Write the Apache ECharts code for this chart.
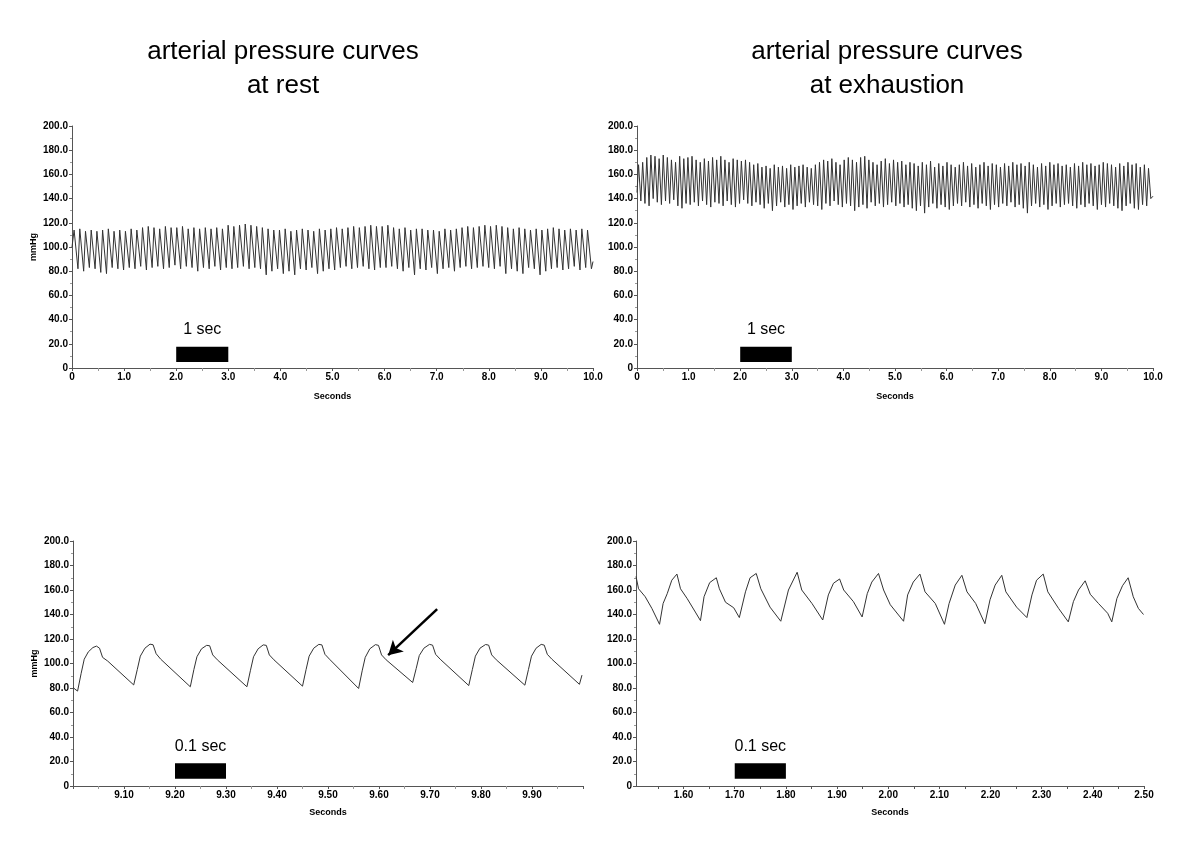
<!DOCTYPE html>
<html>
<head>
<meta charset="utf-8">
<script src="https://cdn.jsdelivr.net/npm/echarts@6/dist/echarts.min.js"></script>
<style>
  html, body { margin: 0; padding: 0; background: #fff; }
  #chart { width: 1200px; height: 847px; }
</style>
</head>
<body>
<div id="chart"></div>
<script>
// 10 s recordings: one peak and one trough value per beat (mmHg)
const restPeaks = [
  114, 115, 113, 114, 113, 114, 115, 113, 114,
  113, 115, 114, 116, 117, 116, 115, 117, 116,
  116, 117, 115, 116, 115, 116, 115, 116, 115,
  118, 117, 118, 119, 118, 117, 116, 115, 114,
  114, 115, 113, 114, 115, 114, 113, 115, 114,
  115, 116, 115, 116, 117, 116, 117, 118, 117,
  117, 118, 116, 115, 116, 114, 115, 115, 114,
  114, 113, 115, 114, 115, 116, 117, 116, 117,
  118, 117, 118, 117, 116, 115, 116, 115, 114,
  115, 114, 115, 116, 115, 114, 115, 114, 115, 114
];
const restTroughs = [
  82, 80, 83, 82, 79, 78, 83, 82, 81,
  83, 82, 84, 81, 83, 84, 82, 83, 85,
  82, 84, 83, 80, 83, 82, 84, 81, 83,
  82, 83, 84, 82, 83, 82, 77, 80, 82,
  78, 80, 77, 82, 81, 83, 78, 80, 82,
  81, 83, 84, 82, 83, 84, 82, 81, 83,
  83, 84, 82, 80, 83, 77, 82, 81, 83,
  78, 82, 83, 80, 83, 84, 82, 83, 84,
  83, 82, 84, 78, 82, 80, 78, 83, 82,
  77, 80, 82, 83, 81, 82, 84, 81, 83, 82
];
const exPeaks = [
  168, 170, 174, 176, 175, 173, 176, 174, 172, 170, 175, 173, 174,
  175, 172, 170, 173, 171, 174, 172, 175, 172, 170, 173, 172, 171,
  172, 170, 168, 169, 166, 167, 165, 168, 166, 167, 165, 168, 166,
  167, 168, 166, 165, 168, 170, 172, 171, 173, 170, 168, 172, 174,
  172, 170, 174, 175, 172, 170, 168, 171, 173, 169, 172, 170, 171,
  168, 170, 169, 167, 170, 168, 171, 166, 169, 167, 170, 168, 166,
  168, 170, 167, 169, 166, 168, 170, 167, 169, 168, 166, 169, 167,
  170, 168, 169, 167, 170, 168, 166, 169, 167, 170, 168, 169, 167,
  168, 166, 169, 167, 170, 168, 169, 167, 168, 170, 169, 168, 166,
  169, 167, 170, 168, 169, 166, 168, 165
];
const exTroughs = [
  138, 136, 134, 140, 137, 135, 138, 136, 139, 134, 132, 136, 135,
  137, 134, 138, 135, 133, 137, 136, 134, 138, 135, 133, 136, 139,
  136, 134, 137, 135, 132, 136, 130, 134, 137, 133, 135, 131, 134,
  136, 133, 137, 135, 134, 131, 136, 134, 138, 135, 133, 136, 134,
  130, 133, 135, 132, 137, 134, 136, 133, 135, 137, 134, 136, 133,
  135, 132, 130, 134, 128, 133, 136, 132, 135, 133, 131, 134, 136,
  134, 137, 133, 135, 132, 136, 134, 131, 135, 133, 136, 134, 137,
  133, 135, 132, 128, 134, 136, 133, 135, 131, 134, 136, 133, 135,
  136, 134, 132, 135, 133, 136, 134, 131, 135, 133, 136, 134, 132,
  130, 134, 136, 132, 131, 135, 134, 140
];
// beat timing (s): period, first peak, share of the beat spent falling
const restBeat = { period: 0.1095, firstPeak: 0.04, fall: 0.68, start: 100, end: 88 };
const exBeat = { period: 0.0797, firstPeak: 0.03, fall: 0.56, start: 145, end: 142 };

// 1 s zoomed windows: [seconds, mmHg]
const restZoom = [
  [9.000, 80.5], [9.004, 79.0], [9.009, 77.5], [9.016, 92.0], [9.022, 103.5], [9.030, 109.5],
  [9.039, 113.0], [9.046, 114.2], [9.052, 112.5], [9.058, 105.0], [9.068, 102.0], [9.119, 82.5],
  [9.126, 95.0], [9.132, 106.0], [9.141, 112.5], [9.151, 115.8], [9.157, 115.3], [9.163, 108.0], [9.172, 103.5], [9.230, 81.0],
  [9.237, 95.0], [9.243, 105.5], [9.252, 112.0], [9.262, 114.8], [9.268, 114.5], [9.274, 107.0], [9.283, 103.0], [9.341, 81.0],
  [9.348, 94.5], [9.354, 105.5], [9.363, 112.0], [9.373, 115.2], [9.379, 114.8], [9.385, 107.0], [9.394, 103.0], [9.450, 81.5],
  [9.457, 95.0], [9.463, 106.0], [9.472, 112.5], [9.482, 115.6], [9.488, 115.2], [9.494, 107.5], [9.503, 103.5], [9.560, 79.6],
  [9.567, 94.0], [9.573, 105.0], [9.582, 112.0], [9.593, 115.4], [9.599, 114.8], [9.605, 107.0], [9.614, 103.0], [9.666, 84.5],
  [9.673, 96.0], [9.679, 106.5], [9.688, 112.5], [9.699, 115.6], [9.705, 115.0], [9.711, 107.5], [9.720, 103.5], [9.776, 82.0],
  [9.783, 95.0], [9.789, 106.0], [9.798, 112.5], [9.809, 115.5], [9.815, 115.0], [9.821, 107.0], [9.830, 103.0], [9.886, 82.3],
  [9.893, 95.0], [9.899, 106.0], [9.908, 112.5], [9.918, 115.6], [9.924, 115.0], [9.930, 107.5], [9.939, 103.5], [9.993, 83.0],
  [9.998, 90.5]
];
const exZoom = [
  [1.507, 171], [1.512, 161], [1.525, 154.5], [1.538, 145], [1.553, 132], [1.560, 149], [1.568, 157], [1.577, 168],
  [1.587, 173], [1.594, 161], [1.607, 153], [1.623, 142], [1.633, 135], [1.640, 154.5], [1.651, 166], [1.664, 170],
  [1.670, 161], [1.682, 150], [1.698, 145.5], [1.709, 137.5], [1.721, 158.5], [1.730, 170], [1.742, 173.5], [1.751, 161],
  [1.769, 146], [1.790, 134.5], [1.805, 160], [1.822, 174.5], [1.831, 160], [1.851, 149], [1.872, 135.5], [1.883, 156],
  [1.893, 165.5], [1.905, 169], [1.913, 160], [1.932, 150.5], [1.949, 138], [1.959, 157], [1.968, 166.5], [1.981, 173.5],
  [1.991, 160], [2.004, 148], [2.030, 134.5], [2.038, 156], [2.049, 166.5], [2.062, 173], [2.072, 158.5], [2.092, 149],
  [2.110, 132], [2.119, 149], [2.131, 164], [2.144, 172], [2.154, 158.5], [2.171, 149], [2.189, 132.5], [2.199, 152],
  [2.209, 164], [2.222, 172], [2.230, 158.5], [2.251, 146], [2.271, 137.5], [2.281, 156], [2.290, 168], [2.303, 173],
  [2.312, 158.5], [2.333, 145], [2.352, 134], [2.362, 150.5], [2.372, 160], [2.385, 167.5], [2.395, 156.5], [2.411, 149],
  [2.429, 141], [2.437, 134], [2.447, 153], [2.458, 163.5], [2.469, 170], [2.479, 154.5], [2.489, 145], [2.499, 140]
];

// axis ticks for the exhaustion zoom window (starts a little after 1.50)
const exZoomTicks = [1.55, 1.60, 1.65, 1.70, 1.75, 1.80, 1.85, 1.90, 1.95, 2.00, 2.05, 2.10, 2.15, 2.20, 2.25, 2.30, 2.35, 2.40, 2.45, 2.50];
const exZoomLabels = [1.60, 1.70, 1.80, 1.90, 2.00, 2.10, 2.20, 2.30, 2.40, 2.50];

// time scale bars: [x from, x to], [y from, y to]
const secBarX = [2.0, 3.0];
const secBarY = [5, 17.5];
const tenthBarRestX = [9.2, 9.3];
const tenthBarExX = [1.7, 1.8];
const tenthBarY = [6, 18.5];
// arrow in the rest zoom: [seconds, mmHg] tail and head
const arrowTail = [9.714, 144.4];
const arrowHead = [9.618, 106.8];

const FONT = 'Liberation Sans, Arial, sans-serif';

function beatTrace(peaks, troughs, b) {
  const pts = [[0, b.start]];
  peaks.forEach((p, i) => {
    const t = b.firstPeak + i * b.period;
    pts.push([t, p]);
    pts.push([t + b.fall * b.period, troughs[i]]);
  });
  pts.push([10, b.end]);
  return pts;
}

const chart = echarts.init(document.getElementById('chart'), null, { renderer: 'canvas' });

const axisColor = '#555';
const labelStyle = { fontWeight: 'bold', fontSize: 10, color: '#000', fontFamily: FONT };

function yAxis(gi, named) {
  return {
    type: 'value', gridIndex: gi, min: 0, max: 200, interval: 20,
    name: named ? 'mmHg' : '', nameLocation: 'middle', nameGap: 34,
    nameTextStyle: { fontWeight: 'bold', fontSize: 9, color: '#000', fontFamily: FONT },
    axisLine: { show: true, lineStyle: { color: axisColor } },
    axisTick: { show: true, length: 3, lineStyle: { color: axisColor } },
    minorTick: { show: true, splitNumber: 2, length: 2, lineStyle: { color: '#999' } },
    splitLine: { show: false },
    axisLabel: Object.assign({ margin: 4, formatter: v => (v === 0 ? '0' : v.toFixed(1)) }, labelStyle)
  };
}

function xBase(gi) {
  return {
    type: 'value', gridIndex: gi, name: 'Seconds', nameLocation: 'middle', nameGap: 24,
    nameTextStyle: { fontWeight: 'bold', fontSize: 9, color: '#000', fontFamily: FONT },
    axisLine: { show: true, onZero: false, lineStyle: { color: axisColor } },
    axisTick: { show: true, length: 3, lineStyle: { color: axisColor } },
    minorTick: { show: true, splitNumber: 2, length: 3, lineStyle: { color: '#999' } },
    splitLine: { show: false }
  };
}

function scaleBar(x, y, text, labelDist) {
  return {
    silent: true,
    itemStyle: { color: '#000' },
    label: { show: true, position: 'top', distance: labelDist, fontSize: 16, color: '#000', fontFamily: FONT },
    data: [[{ name: text, xAxis: x[0], yAxis: y[0] }, { xAxis: x[1], yAxis: y[1] }]]
  };
}

function trace(gi, data, extra) {
  return Object.assign({
    type: 'line', xAxisIndex: gi, yAxisIndex: gi, data: data,
    showSymbol: false, symbol: 'none', silent: true, animation: false,
    lineStyle: { color: '#333', width: 1 }
  }, extra);
}

const topX = gi => Object.assign(xBase(gi), {
  min: 0, max: 10, interval: 1,
  axisLabel: Object.assign({ margin: 4, formatter: v => (v === 0 ? '0' : v.toFixed(1)) }, labelStyle)
});

const option = {
  backgroundColor: '#fff',
  animation: false,
  grid: [
    { left: 72, top: 126, width: 521, height: 242, outerBoundsMode: 'none' },
    { left: 637, top: 126, width: 516, height: 242, outerBoundsMode: 'none' },
    { left: 73, top: 541, width: 510, height: 245, outerBoundsMode: 'none' },
    { left: 636, top: 541, width: 508, height: 245, outerBoundsMode: 'none' }
  ],
  xAxis: [
    topX(0),
    topX(1),
    Object.assign(xBase(2), {
      min: 9.0, max: 10.0, interval: 0.1, nameGap: 22,
      axisLabel: Object.assign({ margin: 4, showMinLabel: false, showMaxLabel: false, formatter: v => v.toFixed(2) }, labelStyle)
    }),
    Object.assign(xBase(3), {
      min: 1.507, max: 2.5, nameGap: 22,
      minorTick: { show: false },
      axisTick: { show: true, length: 3, customValues: exZoomTicks, lineStyle: { color: axisColor } },
      axisLabel: Object.assign({ margin: 4, customValues: exZoomLabels, formatter: v => v.toFixed(2) }, labelStyle)
    })
  ],
  yAxis: [yAxis(0, true), yAxis(1, false), yAxis(2, true), yAxis(3, false)],
  series: [
    trace(0, beatTrace(restPeaks, restTroughs, restBeat), { markArea: scaleBar(secBarX, secBarY, '1 sec', 9) }),
    trace(1, beatTrace(exPeaks, exTroughs, exBeat), { markArea: scaleBar(secBarX, secBarY, '1 sec', 9) }),
    trace(2, restZoom, {
      markArea: scaleBar(tenthBarRestX, tenthBarY, '0.1 sec', 9),
      markLine: {
        silent: true, symbol: ['none', 'arrow'], symbolSize: [12, 14],
        lineStyle: { color: '#000', width: 2.5, type: 'solid' },
        label: { show: false },
        data: [[{ coord: arrowTail }, { coord: arrowHead }]]
      }
    }),
    trace(3, exZoom, { markArea: scaleBar(tenthBarExX, tenthBarY, '0.1 sec', 9) })
  ],
  graphic: [
    { type: 'text', x: 283, y: 52, style: { text: 'arterial pressure curves', textAlign: 'center', textVerticalAlign: 'middle', font: '26px ' + FONT, fill: '#000' } },
    { type: 'text', x: 283, y: 86, style: { text: 'at rest', textAlign: 'center', textVerticalAlign: 'middle', font: '26px ' + FONT, fill: '#000' } },
    { type: 'text', x: 887, y: 52, style: { text: 'arterial pressure curves', textAlign: 'center', textVerticalAlign: 'middle', font: '26px ' + FONT, fill: '#000' } },
    { type: 'text', x: 887, y: 86, style: { text: 'at exhaustion', textAlign: 'center', textVerticalAlign: 'middle', font: '26px ' + FONT, fill: '#000' } }
  ]
};

chart.setOption(option);
</script>
</body>
</html>
